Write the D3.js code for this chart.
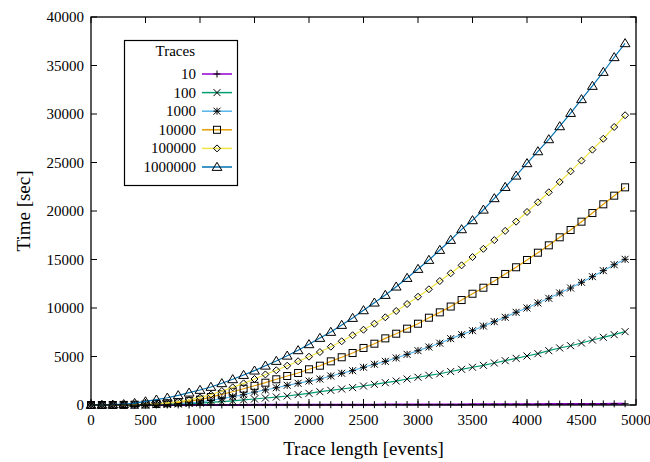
<!DOCTYPE html>
<html><head><meta charset="utf-8">
<script src="https://cdn.jsdelivr.net/npm/d3@7"></script>
<style>body{margin:0;background:#fff}svg{display:block}text{font-family:"Liberation Serif","Times New Roman",serif}</style>
</head><body><svg id="c" width="650" height="462"></svg>
<script>
const xValues = [0,100,200,300,400,500,600,700,800,900,1000,1100,1200,1300,1400,1500,1600,1700,1800,1900,2000,2100,2200,2300,2400,2500,2600,2700,2800,2900,3000,3100,3200,3300,3400,3500,3600,3700,3800,3900,4000,4100,4200,4300,4400,4500,4600,4700,4800,4900];
const seriesNames = ["10","100","1000","10000","100000","1000000"];
const t10 = [0,0,0,1,1,2,2,3,4,5,6,7,8,10,11,13,14,16,18,20,22,24,26,29,31,34,36,39,42,45,48,51,54,58,61,65,68,72,76,80,84,88,92,97,101,106,111,116,121,126];
const t100 = [0,0,0,5,10,20,40,70,100,150,200,270,340,420,520,620,720,820,930,1070,1200,1370,1510,1650,1790,1960,2130,2300,2470,2680,2860,3060,3220,3450,3680,3890,4090,4330,4570,4810,5050,5290,5600,5880,6110,6390,6700,6980,7250,7560];
const t1000 = [0,0,5,10,20,30,50,90,150,220,310,480,650,860,1060,1340,1550,1780,2030,2240,2470,2680,2990,3270,3540,3890,4200,4500,4850,5220,5600,5980,6370,6840,7250,7660,8140,8590,9040,9560,10000,10520,11000,11550,12060,12650,13230,13850,14460,15020];
const t10000 = [0,0,0,10,30,50,100,180,280,400,550,820,1100,1370,1680,1980,2300,2650,2990,3300,3680,4050,4500,4920,5360,5880,6320,6870,7350,7870,8380,9000,9550,10150,10820,11470,12090,12780,13510,14200,14950,15700,16460,17290,18040,18900,19790,20690,21580,22440];
const t100000 = [0,0,10,20,40,60,120,220,350,520,790,1070,1440,1820,2230,2680,3150,3580,4050,4510,4980,5460,6010,6570,7190,7760,8380,9040,9690,10410,11160,11930,12780,13580,14400,15250,16100,17000,17950,18900,19900,20900,21930,22990,24090,25190,26320,27450,28660,29870];
const t1000000 = [0,10,30,80,200,370,550,750,1000,1270,1550,1860,2240,2650,3090,3540,4050,4540,5080,5640,6260,6910,7530,8250,8970,9760,10550,11340,12200,13090,14020,14950,15980,17010,18110,19040,20130,21310,22470,23640,24920,26150,27390,28730,30100,31520,32890,34330,35850,37290];
const xTicks = [0,500,1000,1500,2000,2500,3000,3500,4000,4500,5000];
const yTicks = [0,5000,10000,15000,20000,25000,30000,35000,40000];

const allSeries = [t10,t100,t1000,t10000,t100000,t1000000];
const colors = ["#9400d3","#009e73","#56b4e9","#e69f00","#f0e442","#0072b2"];
const shapes = ["plus","cross","star","square","diamond","triangle"];

const svg = d3.select("#c");
const L=91,R=636,T=17,B=405;
const x = d3.scaleLinear().domain([0,5000]).range([L,R]);
const y = d3.scaleLinear().domain([0,40000]).range([B,T]);

const g = svg.append("g");
g.selectAll(".xt").data(xTicks).join("line").attr("x1",d=>x(d)).attr("x2",d=>x(d)).attr("y1",B).attr("y2",B-6).attr("stroke","#000");
g.selectAll(".xt2").data(xTicks).join("line").attr("x1",d=>x(d)).attr("x2",d=>x(d)).attr("y1",T).attr("y2",T+6).attr("stroke","#000");
g.selectAll(".yt").data(yTicks).join("line").attr("x1",L).attr("x2",L+6).attr("y1",d=>y(d)).attr("y2",d=>y(d)).attr("stroke","#000");
g.selectAll(".yt2").data(yTicks).join("line").attr("x1",R).attr("x2",R-6).attr("y1",d=>y(d)).attr("y2",d=>y(d)).attr("stroke","#000");
g.selectAll(".xl").data(xTicks).join("text").attr("x",d=>x(d)).attr("y",B+20).attr("text-anchor","middle").attr("font-size",15).text(d=>d);
g.selectAll(".yl").data(yTicks).join("text").attr("x",L-7).attr("y",d=>y(d)+5).attr("text-anchor","end").attr("font-size",15).text(d=>d);

svg.append("text").attr("x",(L+R)/2).attr("y",455).attr("text-anchor","middle").attr("font-size",19).text("Trace length [events]");
svg.append("text").attr("transform","translate(30,"+((T+B)/2)+") rotate(-90)").attr("text-anchor","middle").attr("font-size",19).text("Time [sec]");

function marker(sel, shape, s){
  const h=s/2;
  if(shape==="plus") sel.append("path").attr("d",`M${-h},0H${h}M0,${-h}V${h}`);
  else if(shape==="cross") sel.append("path").attr("d",`M${-h},${-h}L${h},${h}M${-h},${h}L${h},${-h}`);
  else if(shape==="star") sel.append("path").attr("d",`M${-h},0H${h}M0,${-h}V${h}M${-h},${-h}L${h},${h}M${-h},${h}L${h},${-h}`);
  else if(shape==="square") sel.append("rect").attr("x",-h).attr("y",-h).attr("width",s).attr("height",s).attr("fill","none");
  else if(shape==="diamond") sel.append("path").attr("d",`M0,${-h}L${h},0L0,${h}L${-h},0Z`).attr("fill","none");
  else if(shape==="triangle") sel.append("path").attr("d",`M0,${-h*1.1}L${h*1.15},${h*0.8}L${-h*1.15},${h*0.8}Z`).attr("fill","none");
}
const sizes = [7,7,7,7,7,8.5];

const line = d3.line().x((d,i)=>x(xValues[i])).y(d=>y(d));
const plot = svg.append("g");
allSeries.forEach((vals,k)=>{
  plot.append("path").datum(vals).attr("d",line).attr("fill","none").attr("stroke",colors[k]).attr("stroke-width",k===0?2:1.2);
  plot.selectAll(".m"+k).data(vals).join("g").attr("transform",(d,i)=>`translate(${x(xValues[i])},${y(d)})`)
    .each(function(){ marker(d3.select(this), shapes[k], sizes[k]); })
    .selectAll("path,rect").attr("stroke","#000").attr("stroke-width",1);
});

svg.append("rect").attr("x",L).attr("y",T).attr("width",R-L).attr("height",B-T).attr("fill","none").attr("stroke","#000").attr("stroke-width",1.3);

const lg = svg.append("g");
lg.append("rect").attr("x",124.5).attr("y",40.5).attr("width",113).attr("height",145).attr("fill","#fff").attr("stroke","#000").attr("stroke-width",1.2);
lg.append("text").attr("x",195).attr("y",56).attr("text-anchor","end").attr("font-size",15).text("Traces");
seriesNames.forEach((n,k)=>{
  const yy = 74 + k*18.6;
  lg.append("text").attr("x",196).attr("y",yy+5).attr("text-anchor","end").attr("font-size",15).text(n);
  lg.append("line").attr("x1",202).attr("x2",232).attr("y1",yy).attr("y2",yy).attr("stroke",colors[k]).attr("stroke-width",1.5);
  const m = lg.append("g").attr("transform",`translate(217,${yy})`);
  marker(m, shapes[k], sizes[k]);
  m.selectAll("path,rect").attr("stroke","#000").attr("stroke-width",1);
});
</script></body></html>
